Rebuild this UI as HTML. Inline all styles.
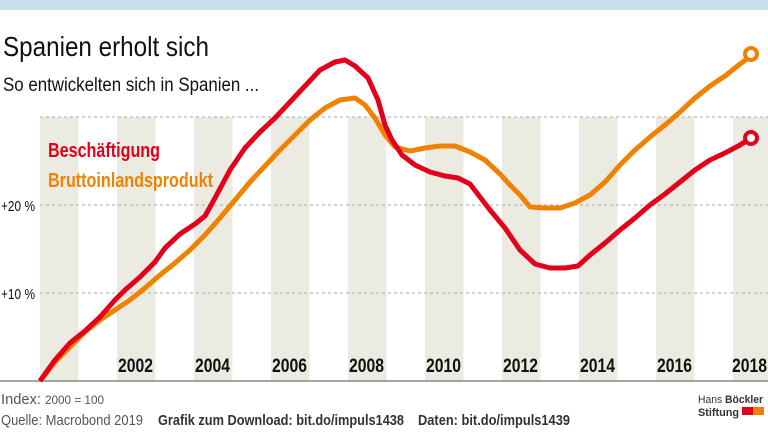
<!DOCTYPE html>
<html><head><meta charset="utf-8"><style>
body{margin:0;width:768px;height:432px;overflow:hidden;background:#fff;font-family:"Liberation Sans",sans-serif}
</style></head><body>
<svg width="768" height="432" viewBox="0 0 768 432" xmlns="http://www.w3.org/2000/svg" style="display:block;font-family:'Liberation Sans',sans-serif">
<rect x="0" y="0" width="768" height="10" fill="#c9e1ec"/>
<g fill="#ecebe2">
<rect x="40" y="117" width="38.5" height="264"/>
<rect x="117" y="117" width="38.5" height="264"/>
<rect x="194" y="117" width="38.5" height="264"/>
<rect x="271" y="117" width="38.5" height="264"/>
<rect x="348" y="117" width="38.5" height="264"/>
<rect x="425" y="117" width="38.5" height="264"/>
<rect x="502" y="117" width="38.5" height="264"/>
<rect x="579" y="117" width="38.5" height="264"/>
<rect x="656" y="117" width="38.5" height="264"/>
<rect x="733" y="117" width="35" height="264"/>
</g>
<g stroke="#aaa" stroke-width="1" stroke-dasharray="3,3">
<line x1="40" y1="117" x2="768" y2="117"/>
<line x1="40" y1="205" x2="768" y2="205"/>
<line x1="40" y1="293" x2="768" y2="293"/>
</g>
<line x1="0" y1="381" x2="768" y2="381" stroke="#888" stroke-width="1.5"/>
<text x="3" y="56" font-size="28" fill="#111" textLength="206" lengthAdjust="spacingAndGlyphs">Spanien erholt sich</text>
<text x="3" y="91" font-size="19" fill="#111" textLength="256" lengthAdjust="spacingAndGlyphs">So entwickelten sich in Spanien ...</text>
<text x="1" y="211" font-size="15" fill="#111" textLength="34" lengthAdjust="spacingAndGlyphs">+20 %</text>
<text x="1" y="299" font-size="15" fill="#111" textLength="34" lengthAdjust="spacingAndGlyphs">+10 %</text>
<text x="48" y="157" font-size="20" font-weight="bold" fill="#e2001a" textLength="112" lengthAdjust="spacingAndGlyphs">Beschäftigung</text>
<text x="48" y="187" font-size="20" font-weight="bold" fill="#f08200" textLength="165" lengthAdjust="spacingAndGlyphs">Bruttoinlandsprodukt</text>
<g font-size="19" font-weight="bold" fill="#111">
<text x="118" y="372" textLength="35" lengthAdjust="spacingAndGlyphs">2002</text>
<text x="195" y="372" textLength="35" lengthAdjust="spacingAndGlyphs">2004</text>
<text x="272" y="372" textLength="35" lengthAdjust="spacingAndGlyphs">2006</text>
<text x="349" y="372" textLength="35" lengthAdjust="spacingAndGlyphs">2008</text>
<text x="426" y="372" textLength="35" lengthAdjust="spacingAndGlyphs">2010</text>
<text x="503" y="372" textLength="35" lengthAdjust="spacingAndGlyphs">2012</text>
<text x="580" y="372" textLength="35" lengthAdjust="spacingAndGlyphs">2014</text>
<text x="657" y="372" textLength="35" lengthAdjust="spacingAndGlyphs">2016</text>
<text x="732" y="372" textLength="35" lengthAdjust="spacingAndGlyphs">2018</text>
</g>
<polyline fill="none" stroke="#f08200" stroke-width="5" stroke-linejoin="round" points="40,381 55,362 70,347 85,332 100,320 115,310 130,300 145,288 160,275 175,263 190,250 205,235 220,218 235,200 250,182 265,166 280,150 295,135 310,120 325,108 340,100 355,98 365,105 375,118 385,135 395,147 410,151 425,148 440,146 455,146 470,152 485,160 500,174 510,185 520,195 530,207 545,208 560,208 575,203 590,195 605,182 620,165 635,150 650,137 665,125 680,112 695,98 710,86 725,76 740,64 751,56"/>
<polyline fill="none" stroke="#e2001a" stroke-width="5" stroke-linejoin="round" points="40,381 55,360 70,343 85,331 100,317 115,300 125,290 140,277 155,262 165,248 180,234 195,224 205,216 215,198 230,170 245,148 260,132 275,118 290,102 305,86 320,70 335,62 345,60 355,66 368,78 378,100 385,125 392,140 402,155 415,165 430,172 445,176 458,178 470,184 480,197 490,210 505,228 520,250 535,264 550,268 565,268 578,266 590,255 605,243 620,230 635,218 650,205 665,194 680,182 695,170 710,160 725,153 740,145 751,138"/>
<circle cx="751" cy="54" r="6" fill="#fff" stroke="#f08200" stroke-width="4"/>
<circle cx="751" cy="138" r="6" fill="#fff" stroke="#e2001a" stroke-width="4"/>
<text x="1" y="404" font-size="15" fill="#555" textLength="103" lengthAdjust="spacingAndGlyphs">Index: <tspan font-size="12">2000 = 100</tspan></text>
<text x="1" y="425" font-size="15" fill="#555" textLength="142" lengthAdjust="spacingAndGlyphs">Quelle: Macrobond 2019</text>
<text x="158" y="425" font-size="15" font-weight="bold" fill="#333" textLength="246" lengthAdjust="spacingAndGlyphs">Grafik zum Download: bit.do/impuls1438</text>
<text x="418" y="425" font-size="15" font-weight="bold" fill="#333" textLength="152" lengthAdjust="spacingAndGlyphs">Daten: bit.do/impuls1439</text>
<text x="698" y="403" font-size="11" fill="#333" textLength="65" lengthAdjust="spacingAndGlyphs">Hans <tspan font-weight="bold">Böckler</tspan></text>
<text x="698" y="416" font-size="11" font-weight="bold" fill="#333" textLength="41" lengthAdjust="spacingAndGlyphs">Stiftung</text>
<rect x="742" y="407" width="11" height="8" fill="#e2001a"/>
<rect x="753" y="407" width="11" height="8" fill="#f08200"/>
</svg>
</body></html>
